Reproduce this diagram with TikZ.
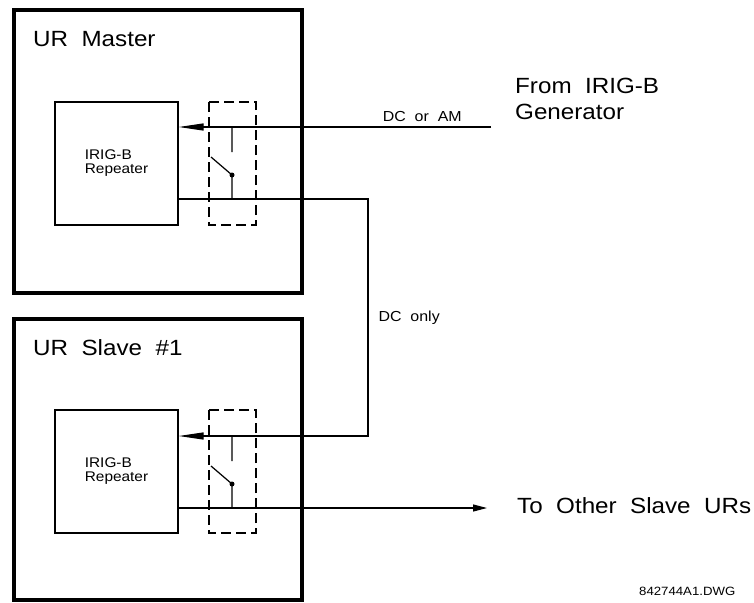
\documentclass[tikz,border=0pt]{standalone}
\usepackage{fontspec}
\setmainfont{Liberation Sans}[FakeStretch=1.1,WordSpace=2]
\usetikzlibrary{arrows.meta}
\begin{document}
\begin{tikzpicture}[x=1pt,y=-1pt,
  urbox/.style={draw,line width=4pt},
  repbox/.style={draw,line width=1.2pt,minimum width=123pt,minimum height=123pt,align=left,font=\fontsize{14}{14}\selectfont},
  relay/.style={draw,line width=1.2pt,dash pattern=on 10pt off 5pt},
  wire/.style={line width=1.2pt},
  bigtxt/.style={font=\fontsize{22}{26}\selectfont,inner sep=0pt,anchor=base west,align=left},
  smalltxt/.style={font=\fontsize{14.5}{14.5}\selectfont,inner sep=0pt,anchor=base west}]
\useasboundingbox (0,0) rectangle (754,602);
\draw[urbox] (14,10) rectangle (302,293);
\draw[urbox] (14,319) rectangle (302,600);
\node[bigtxt] (mname) at (33,47) {UR Master};
\node[bigtxt] (sname) at (33,355) {UR Slave \#1};
\node[repbox] (mrep) at (116.5,163.5) {IRIG-B\\Repeater};
\node[repbox] (srep) at (116.5,471.5) {IRIG-B\\Repeater};
\draw[relay] (209,102) rectangle (256,225);
\draw[relay] (209,410) rectangle (256,533);
\coordinate (gen) at (491,127);
\coordinate (others) at (487,508);
\draw[wire,-{Triangle[length=25pt,width=7pt]}] (gen) -- node[smalltxt,pos=0.22,above=6pt,anchor=base] {DC or AM} (mrep.east |- gen);
\draw[wire,-{Triangle[length=25pt,width=7pt]}] (mrep.east |- 0,199) -- (368,199) -- node[smalltxt,right=10pt] {DC only} (368,436) -- (srep.east |- 0,436);
\draw[wire,-{Triangle[length=14pt,width=7pt]}] (srep.east |- others) -- (others);
\draw[wire] (232,127) -- (232,152) (211,157) -- (232,175) -- (232,199);
\draw[wire] (232,436) -- (232,461) (211,466) -- (232,484) -- (232,508);
\fill (232,175) circle (2.5pt);
\fill (232,484) circle (2.5pt);
\node[bigtxt] (gentxt) at (515,119) {From IRIG-B\\Generator};
\node[bigtxt] (othtxt) at (517,513) {To Other Slave URs};
\node[smalltxt,font=\fontsize{12}{12}\selectfont] (dwg) at (639,595) {842744A1.DWG};
\end{tikzpicture}
\end{document}
